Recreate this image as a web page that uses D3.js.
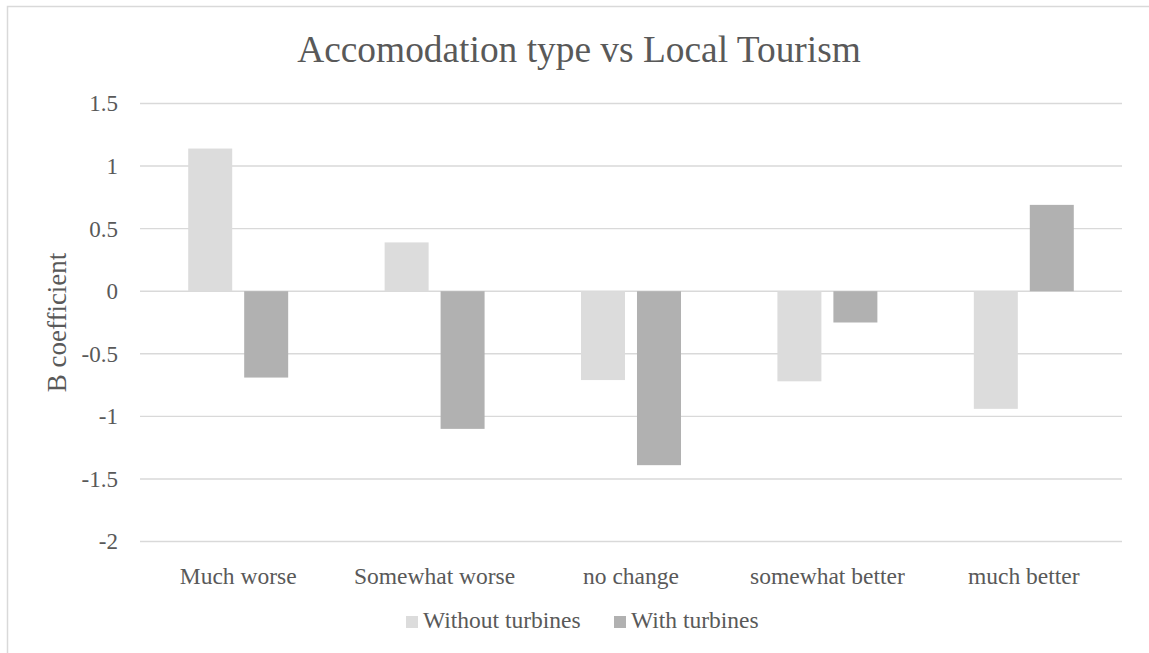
<!DOCTYPE html>
<html>
<head>
<meta charset="utf-8">
<script src="https://cdn.jsdelivr.net/npm/d3@7"></script>
<style>
  html, body { margin: 0; padding: 0; background: #fff; }
  svg { display: block; }
  text { font-family: "Liberation Serif", "Times New Roman", serif; fill: #595959; }
</style>
</head>
<body>
<svg id="chart" width="1149" height="653"></svg>
<script>
// Response categories and regression coefficients for each series
const categories = ["Much worse", "Somewhat worse", "no change", "somewhat better", "much better"];
const seriesNames = ["Without turbines", "With turbines"];
const withoutTurbines = [1.14, 0.39, -0.71, -0.72, -0.94];
const withTurbines = [-0.69, -1.10, -1.39, -0.25, 0.69];
const yTicks = [1.5, 1, 0.5, 0, -0.5, -1, -1.5, -2];
const seriesColors = ["#dcdcdc", "#b1b1b1"];

const rows = categories.map((c, i) => ({
  category: c,
  values: [withoutTurbines[i], withTurbines[i]]
}));

const svg = d3.select("#chart");
const W = 1149, H = 653;

// chart frame
svg.append("rect")
  .attr("x", 7.5).attr("y", 6.5)
  .attr("width", W + 20).attr("height", H + 20)
  .attr("fill", "#fff").attr("stroke", "#d9d9d9").attr("stroke-width", 1.5);

const plot = { left: 140, right: 1122, top: 103.5, bottom: 541.5 };

const y = d3.scaleLinear().domain([-2, 1.5]).range([plot.bottom, plot.top]);
const x0 = d3.scaleBand().domain(categories).range([plot.left, plot.right]).padding(0);
const bw = x0.bandwidth();
const x1 = d3.scaleBand().domain(seriesNames)
  .range([bw * 0.2455, bw * 0.7545]).paddingInner(0.214).paddingOuter(0);

// horizontal gridlines
svg.append("g")
  .selectAll("line")
  .data(yTicks)
  .join("line")
  .attr("x1", plot.left).attr("x2", plot.right)
  .attr("y1", d => y(d)).attr("y2", d => y(d))
  .attr("stroke", "#d9d9d9").attr("stroke-width", 1.4);

// y tick labels
const yAxis = d3.axisLeft(y).tickValues(yTicks).tickSize(0).tickPadding(0)
  .tickFormat(d => String(d));
const gy = svg.append("g").attr("transform", `translate(${plot.left - 22},0)`).call(yAxis);
gy.select(".domain").remove();
gy.selectAll("text")
  .attr("font-size", 23)
  .attr("fill", "#595959")
  .attr("dy", "0.32em");

// bars
const groups = svg.append("g")
  .selectAll("g")
  .data(rows)
  .join("g")
  .attr("transform", d => `translate(${x0(d.category)},0)`);

groups.selectAll("rect")
  .data(d => d.values.map((v, i) => ({ series: seriesNames[i], value: v, i })))
  .join("rect")
  .attr("x", d => x1(d.series))
  .attr("width", x1.bandwidth())
  .attr("y", d => y(Math.max(0, d.value)))
  .attr("height", d => Math.abs(y(d.value) - y(0)))
  .attr("fill", d => seriesColors[d.i]);

// category labels
const xAxis = d3.axisBottom(x0).tickSize(0).tickPadding(0);
const gx = svg.append("g").attr("transform", `translate(0,${plot.bottom + 26})`).call(xAxis);
gx.select(".domain").remove();
gx.selectAll("text")
  .attr("font-size", 23.5)
  .attr("fill", "#595959")
  .attr("dy", "0.71em");

// y axis title
svg.append("text")
  .attr("transform", `translate(66,${(plot.top + plot.bottom) / 2}) rotate(-90)`)
  .attr("text-anchor", "middle")
  .attr("font-size", 27)
  .text("B coefficient");

// chart title
svg.append("text")
  .attr("x", 579).attr("y", 62)
  .attr("text-anchor", "middle")
  .attr("font-size", 37.4)
  .text("Accomodation type vs Local Tourism");

// legend
const legend = svg.append("g").attr("transform", "translate(406,616)");
const legendX = [0, 208];
seriesNames.forEach((name, i) => {
  const g = legend.append("g").attr("transform", `translate(${legendX[i]},0)`);
  g.append("rect").attr("width", 12).attr("height", 12).attr("fill", seriesColors[i]);
  g.append("text").attr("x", 17).attr("y", 12).attr("font-size", 23.5).text(name);
});
</script>
</body>
</html>
